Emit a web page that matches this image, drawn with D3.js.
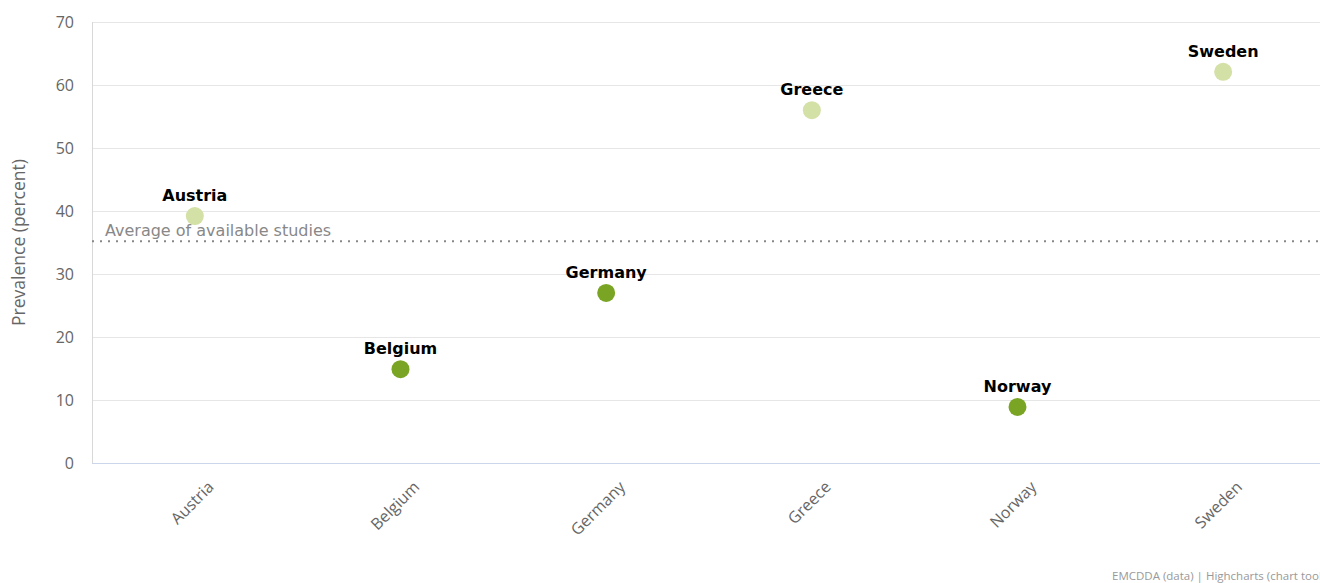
<!DOCTYPE html>
<html lang="en">
<head>
  <meta charset="UTF-8">
  <title>Prevalence chart</title>
  <script src="https://cdn.jsdelivr.net/npm/d3@7"></script>
  <style>
    body { margin: 0; background: #fff; overflow: hidden; }
    svg { font-family: "DejaVu Sans", sans-serif; }
    .grid line { stroke: #e6e6e6; }
    .tick text, .axis-title, .credits { font-family: "Open Sans", sans-serif; }
  </style>
</head>
<body>
  <div id="chart"></div>
  <script>
    const countries = ["Austria", "Belgium", "Germany", "Greece", "Norway", "Sweden"];
    const prevalence = [39.2, 14.9, 27.0, 56.0, 8.9, 62.1];
    const shade = ["light", "dark", "dark", "light", "dark", "light"];
    const yTicks = [0, 10, 20, 30, 40, 50, 60, 70];
    const average = 35.2;

    const w = 1320, h = 583;
    const padLeft = 92, padTop = 22, padBottom = 463, padRight = 1326;

    const svg = d3.select("#chart").append("svg")
      .attr("width", w).attr("height", h);

    const x = d3.scaleBand().domain(countries).range([padLeft, padRight]);
    const y = d3.scaleLinear().domain([0, 70]).range([padBottom, padTop]);

    // grid lines
    svg.append("g").attr("class", "grid")
      .selectAll("line").data(yTicks.slice(1)).enter().append("line")
      .attr("x1", padLeft).attr("x2", padRight)
      .attr("y1", d => y(d) + 0.5).attr("y2", d => y(d) + 0.5);

    // y axis
    const yAxis = svg.append("g")
      .attr("transform", "translate(" + padLeft + ",0)")
      .call(d3.axisLeft(y).tickValues(yTicks).tickSize(0).tickPadding(18));
    yAxis.attr("font-family", null);
    yAxis.select(".domain").attr("stroke", "#d8d8d8").attr("d", `M0.5,${padTop}V${padBottom}`);
    yAxis.selectAll("text").attr("fill", "#666").style("font-size", "16px");

    // x axis
    const xAxis = svg.append("g")
      .attr("transform", "translate(0," + padBottom + ")")
      .call(d3.axisBottom(x).tickSize(0).tickPadding(0));
    xAxis.attr("font-family", null);
    xAxis.select(".domain").attr("stroke", "#ccd6eb").attr("d", `M${padLeft},0.5H${padRight}`);
    xAxis.selectAll("text")
      .attr("fill", "#666").style("font-size", "16px")
      .attr("text-anchor", "end")
      .attr("dy", null).attr("y", 0)
      .attr("transform", "translate(20,25) rotate(-45)");

    // y axis title
    svg.append("text")
      .attr("class", "axis-title")
      .attr("transform", "translate(25," + ((padTop + padBottom) / 2) + ") rotate(-90)")
      .attr("text-anchor", "middle")
      .attr("fill", "#666").style("font-size", "17.5px")
      .text("Prevalence (percent)");

    // average line
    svg.append("line")
      .attr("x1", padLeft).attr("x2", padRight)
      .attr("y1", y(average)).attr("y2", y(average))
      .attr("stroke", "#888").attr("stroke-width", 2)
      .attr("stroke-dasharray", "2,6");
    svg.append("text")
      .attr("x", padLeft + 13).attr("y", y(average) - 5)
      .attr("fill", "#888").style("font-size", "16px")
      .text("Average of available studies");

    const points = countries.map((c, i) => ({ c: c, v: prevalence[i], s: shade[i] }));
    const cx = d => x(d.c) + x.bandwidth() / 2;

    svg.selectAll("circle.pt").data(points).enter().append("circle")
      .attr("class", "pt")
      .attr("cx", cx).attr("cy", d => y(d.v))
      .attr("r", 9)
      .attr("fill", d => d.s === "light" ? "#d3e0a6" : "#7aa524");

    svg.selectAll("text.lbl").data(points).enter().append("text")
      .attr("class", "lbl")
      .attr("x", cx).attr("y", d => y(d.v) - 15)
      .attr("text-anchor", "middle")
      .attr("fill", "#000").style("font-size", "16px").style("font-weight", "bold")
      .text(d => d.c);

    svg.append("text")
      .attr("class", "credits")
      .attr("x", 1112).attr("y", 580)
      .attr("fill", "#999").style("font-size", "11.5px")
      .text("EMCDDA (data) | Highcharts (chart tool)");
  </script>
</body>
</html>
